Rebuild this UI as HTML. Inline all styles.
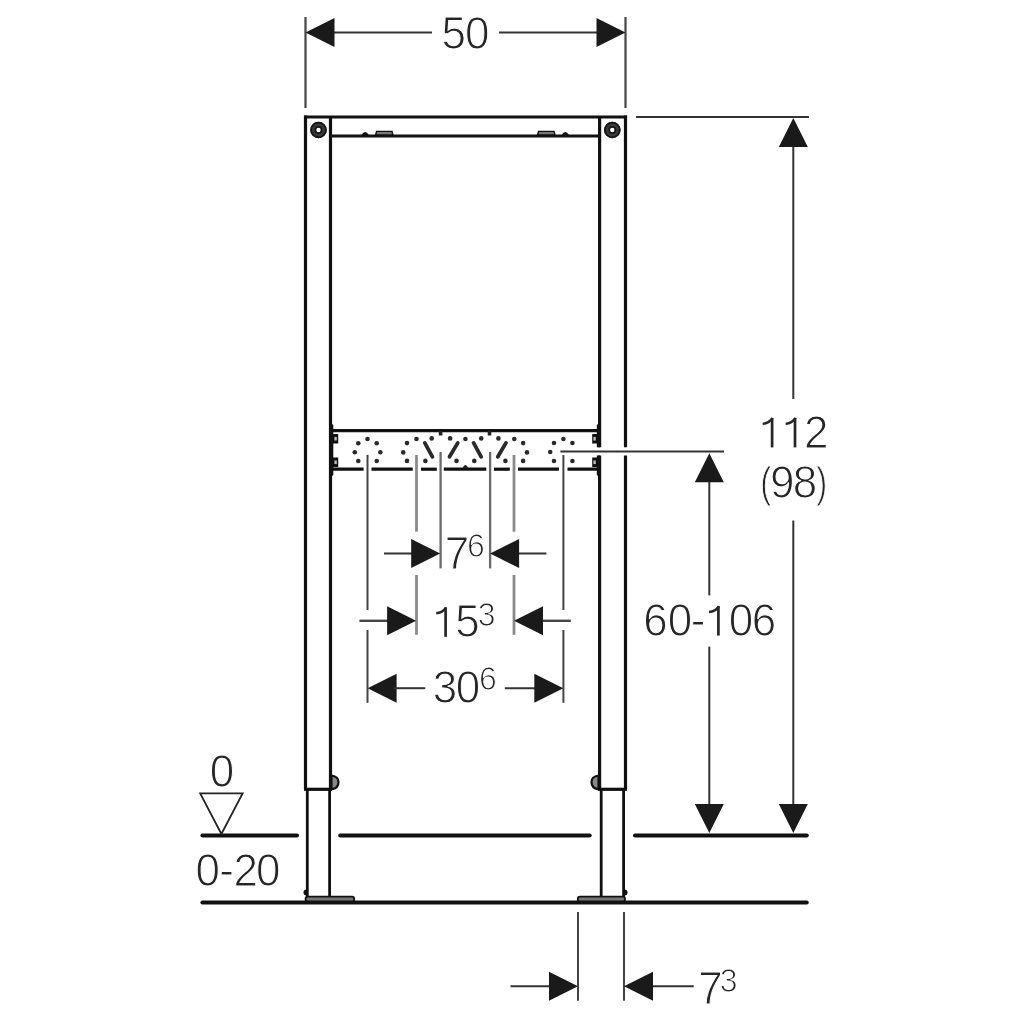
<!DOCTYPE html>
<html><head><meta charset="utf-8"><title>Installation frame dimensions</title>
<style>
html,body{margin:0;padding:0;background:#fff;}
body{width:1024px;height:1024px;overflow:hidden;}
svg{display:block;}
text{font-family:"Liberation Sans",sans-serif;}
</style></head>
<body>
<svg style="will-change:transform" width="1024" height="1024" viewBox="0 0 1024 1024">
<rect width="1024" height="1024" fill="#fff"/>
<line x1="305.5" y1="17" x2="305.5" y2="108" stroke="#444" stroke-width="2.2" stroke-linecap="butt"/>
<line x1="625.5" y1="17" x2="625.5" y2="108" stroke="#444" stroke-width="2.2" stroke-linecap="butt"/>
<line x1="330" y1="32.6" x2="432" y2="32.6" stroke="#333" stroke-width="2" stroke-linecap="butt"/>
<line x1="499" y1="32.6" x2="600" y2="32.6" stroke="#333" stroke-width="2" stroke-linecap="butt"/>
<polygon points="305.5,32.6 334.5,18.1 334.5,47.1" fill="#1a1a1a"/>
<polygon points="625.5,32.6 596.5,18.1 596.5,47.1" fill="#1a1a1a"/>
<text transform="translate(441.54,48.87) scale(1.0,1.03)" font-size="44" fill="#262626" stroke="#fff" stroke-width="1.0">5</text>
<text transform="translate(464.88,48.87) scale(1.0,1.03)" font-size="44" fill="#262626" stroke="#fff" stroke-width="1.0">0</text>
<line x1="304" y1="117" x2="627" y2="117" stroke="#111" stroke-width="3.2" stroke-linecap="butt"/>
<line x1="305.5" y1="115.5" x2="305.5" y2="789.3" stroke="#111" stroke-width="3.2" stroke-linecap="butt"/>
<line x1="330.5" y1="117" x2="330.5" y2="789.3" stroke="#111" stroke-width="3.2" stroke-linecap="butt"/>
<line x1="599.6" y1="117" x2="599.6" y2="447.2" stroke="#111" stroke-width="3.2" stroke-linecap="butt"/>
<line x1="599.6" y1="455.5" x2="599.6" y2="789.3" stroke="#111" stroke-width="3.2" stroke-linecap="butt"/>
<line x1="625.5" y1="115.5" x2="625.5" y2="447.2" stroke="#111" stroke-width="3.2" stroke-linecap="butt"/>
<line x1="625.5" y1="455.5" x2="625.5" y2="789.3" stroke="#111" stroke-width="3.2" stroke-linecap="butt"/>
<line x1="330.5" y1="136" x2="599.6" y2="136" stroke="#111" stroke-width="3.2" stroke-linecap="butt"/>
<path d="M361.5,135 Q365.2,129 368.9,135 Z" fill="#111" />
<path d="M375.6,135 L376.6,131.4 L392,131.4 L393,135 Z" fill="#777" stroke="#111" stroke-width="1.4" />
<path d="M569.0,135 Q565.3,129 561.6,135 Z" fill="#111" />
<path d="M537.5,135 L538.5,131.4 L554,131.4 L555,135 Z" fill="#777" stroke="#111" stroke-width="1.4" />
<circle cx="318.5" cy="130" r="5.3" fill="none" stroke="#3a3a3a" stroke-width="6"/>
<circle cx="318.5" cy="130" r="7.4" fill="none" stroke="#151515" stroke-width="1.8"/>
<circle cx="318.5" cy="130" r="3.2" fill="none" stroke="#151515" stroke-width="1.6"/>
<circle cx="612.3" cy="130" r="5.3" fill="none" stroke="#3a3a3a" stroke-width="6"/>
<circle cx="612.3" cy="130" r="7.4" fill="none" stroke="#151515" stroke-width="1.8"/>
<circle cx="612.3" cy="130" r="3.2" fill="none" stroke="#151515" stroke-width="1.6"/>
<line x1="304" y1="789.3" x2="332" y2="789.3" stroke="#111" stroke-width="3.2" stroke-linecap="butt"/>
<line x1="598" y1="789.3" x2="627" y2="789.3" stroke="#111" stroke-width="3.2" stroke-linecap="butt"/>
<path d="M331.5,775.5 Q338.5,776.5 338.5,782 Q338.5,788.5 331.5,789.3 Z" fill="#888" stroke="#111" stroke-width="2.2" />
<path d="M598.5,775.5 Q591.5,776.5 591.5,782 Q591.5,788.5 598.5,789.3 Z" fill="#888" stroke="#111" stroke-width="2.2" />
<line x1="307.3" y1="789.3" x2="307.3" y2="897" stroke="#111" stroke-width="2.8" stroke-linecap="butt"/>
<line x1="329.6" y1="789.3" x2="329.6" y2="897" stroke="#111" stroke-width="2.8" stroke-linecap="butt"/>
<line x1="601.2" y1="789.3" x2="601.2" y2="897" stroke="#111" stroke-width="2.8" stroke-linecap="butt"/>
<line x1="623.6" y1="789.3" x2="623.6" y2="897" stroke="#111" stroke-width="2.8" stroke-linecap="butt"/>
<rect x="305.6" y="896.6" width="48.6" height="5.2" rx="2.2" fill="#777" stroke="#111" stroke-width="1.8"/>
<rect x="577.8" y="896.6" width="47.2" height="5.2" rx="2.2" fill="#777" stroke="#111" stroke-width="1.8"/>
<path d="M306.5,889.5 A3,3 0 0 0 306.5,895.5 Z" fill="#111" />
<path d="M624.5,889.5 A3,3 0 0 1 624.5,895.5 Z" fill="#111" />
<line x1="330.5" y1="430.6" x2="599.6" y2="430.6" stroke="#111" stroke-width="3.2" stroke-linecap="butt"/>
<line x1="330.5" y1="469.2" x2="363.6" y2="469.2" stroke="#111" stroke-width="3.2" stroke-linecap="butt"/>
<line x1="371.5" y1="469.2" x2="412.7" y2="469.2" stroke="#111" stroke-width="3.2" stroke-linecap="butt"/>
<line x1="421" y1="469.2" x2="436.8" y2="469.2" stroke="#111" stroke-width="3.2" stroke-linecap="butt"/>
<line x1="443.8" y1="469.2" x2="486.3" y2="469.2" stroke="#111" stroke-width="3.2" stroke-linecap="butt"/>
<line x1="494" y1="469.2" x2="509.8" y2="469.2" stroke="#111" stroke-width="3.2" stroke-linecap="butt"/>
<line x1="518" y1="469.2" x2="559" y2="469.2" stroke="#111" stroke-width="3.2" stroke-linecap="butt"/>
<line x1="567.5" y1="469.2" x2="599.6" y2="469.2" stroke="#111" stroke-width="3.2" stroke-linecap="butt"/>
<path d="M330,422.5 L333.3,425 L333.3,475 L330,477.5 Z" fill="#111" />
<path d="M600,422.5 L596.8,425 L596.8,447.2 L600,447.2 Z" fill="#111" />
<path d="M600,455.5 L596.8,455.5 L596.8,475 L600,477.5 Z" fill="#111" />
<rect x="333" y="434" width="5.199999999999989" height="9.5" fill="#111"/>
<rect x="334.40000000000003" y="436.95" width="2.4" height="3.6" fill="#bbb"/>
<rect x="333" y="457.5" width="5.199999999999989" height="9.5" fill="#111"/>
<rect x="334.40000000000003" y="460.45" width="2.4" height="3.6" fill="#bbb"/>
<rect x="592.2" y="434" width="4.7999999999999545" height="9.5" fill="#111"/>
<rect x="593.4" y="436.95" width="2.4" height="3.6" fill="#bbb"/>
<rect x="592.2" y="457.5" width="4.7999999999999545" height="9.5" fill="#111"/>
<rect x="593.4" y="460.45" width="2.4" height="3.6" fill="#bbb"/>
<circle cx="367.5" cy="439" r="2.3" fill="#2a2a2a"/>
<circle cx="358.3" cy="443.2" r="2.3" fill="#2a2a2a"/>
<circle cx="376.7" cy="443.2" r="2.3" fill="#2a2a2a"/>
<circle cx="354.8" cy="452.2" r="2.3" fill="#2a2a2a"/>
<circle cx="380.3" cy="452.2" r="2.3" fill="#2a2a2a"/>
<circle cx="358.3" cy="461" r="2.3" fill="#2a2a2a"/>
<circle cx="376.7" cy="461" r="2.3" fill="#2a2a2a"/>
<circle cx="416.5" cy="439" r="2.3" fill="#2a2a2a"/>
<circle cx="431.7" cy="438.4" r="2.3" fill="#2a2a2a"/>
<circle cx="407" cy="443.1" r="2.3" fill="#2a2a2a"/>
<circle cx="403.2" cy="452.4" r="2.3" fill="#2a2a2a"/>
<circle cx="407" cy="460.9" r="2.3" fill="#2a2a2a"/>
<circle cx="425.4" cy="460.9" r="2.3" fill="#2a2a2a"/>
<circle cx="450.1" cy="438.4" r="2.3" fill="#2a2a2a"/>
<circle cx="465.4" cy="439" r="2.3" fill="#2a2a2a"/>
<circle cx="481.2" cy="438.4" r="2.3" fill="#2a2a2a"/>
<circle cx="498.4" cy="438.4" r="2.3" fill="#2a2a2a"/>
<circle cx="514.3" cy="439" r="2.3" fill="#2a2a2a"/>
<circle cx="523.1" cy="443.1" r="2.3" fill="#2a2a2a"/>
<circle cx="527" cy="452.4" r="2.3" fill="#2a2a2a"/>
<circle cx="523.1" cy="460.9" r="2.3" fill="#2a2a2a"/>
<circle cx="456.5" cy="460.9" r="2.3" fill="#2a2a2a"/>
<circle cx="474.3" cy="460.9" r="2.3" fill="#2a2a2a"/>
<circle cx="505.4" cy="460.9" r="2.3" fill="#2a2a2a"/>
<circle cx="554" cy="443" r="2.3" fill="#2a2a2a"/>
<circle cx="563.4" cy="439" r="2.3" fill="#2a2a2a"/>
<circle cx="572.4" cy="443" r="2.3" fill="#2a2a2a"/>
<circle cx="550.2" cy="452" r="2.3" fill="#2a2a2a"/>
<circle cx="554" cy="461" r="2.3" fill="#2a2a2a"/>
<circle cx="572.4" cy="461" r="2.3" fill="#2a2a2a"/>
<line x1="424.8" y1="442.9" x2="432.4" y2="456.8" stroke="#2a2a2a" stroke-width="3.8" stroke-linecap="round"/>
<line x1="457.8" y1="442.9" x2="449.5" y2="456.8" stroke="#2a2a2a" stroke-width="3.8" stroke-linecap="round"/>
<line x1="473.6" y1="442.9" x2="481.2" y2="456.8" stroke="#2a2a2a" stroke-width="3.8" stroke-linecap="round"/>
<line x1="506" y1="442.9" x2="497.8" y2="456.8" stroke="#2a2a2a" stroke-width="3.8" stroke-linecap="round"/>
<rect x="438.8" y="431" width="3.6" height="4.5" fill="#222"/>
<rect x="487.7" y="431" width="3.6" height="4.5" fill="#222"/>
<path d="M462.5,468 Q465.4,462 468.3,468 Z" fill="#222" />
<line x1="367.5" y1="454.8" x2="367.5" y2="610" stroke="#444" stroke-width="2" stroke-linecap="butt"/>
<line x1="367.5" y1="630" x2="367.5" y2="702.8" stroke="#444" stroke-width="2" stroke-linecap="butt"/>
<line x1="416.5" y1="455" x2="416.5" y2="531.7" stroke="#8a8a8a" stroke-width="2.8" stroke-linecap="butt"/>
<line x1="416.5" y1="575" x2="416.5" y2="634.8" stroke="#8a8a8a" stroke-width="2.8" stroke-linecap="butt"/>
<line x1="440.6" y1="452" x2="440.6" y2="568.4" stroke="#6a6a6a" stroke-width="2.3" stroke-linecap="butt"/>
<line x1="490.1" y1="452" x2="490.1" y2="568.4" stroke="#6a6a6a" stroke-width="2.3" stroke-linecap="butt"/>
<line x1="514" y1="455" x2="514" y2="531.7" stroke="#8a8a8a" stroke-width="2.8" stroke-linecap="butt"/>
<line x1="514" y1="575" x2="514" y2="634.8" stroke="#8a8a8a" stroke-width="2.8" stroke-linecap="butt"/>
<line x1="563.4" y1="455" x2="563.4" y2="610" stroke="#444" stroke-width="2" stroke-linecap="butt"/>
<line x1="563.4" y1="630" x2="563.4" y2="702.8" stroke="#444" stroke-width="2" stroke-linecap="butt"/>
<line x1="384" y1="553.5" x2="415" y2="553.5" stroke="#333" stroke-width="2" stroke-linecap="butt"/>
<polygon points="440.2,553.5 411.2,539.0 411.2,568.0" fill="#1a1a1a"/>
<line x1="515" y1="553.5" x2="546.4" y2="553.5" stroke="#333" stroke-width="2" stroke-linecap="butt"/>
<polygon points="490.1,553.5 519.1,539.0 519.1,568.0" fill="#1a1a1a"/>
<text transform="translate(444.76,569.12) scale(1.0,1.03)" font-size="44" fill="#262626" stroke="#fff" stroke-width="1.0">7</text>
<text transform="translate(467.07,557.45) scale(1.0,1.03)" font-size="32" fill="#262626" stroke="#fff" stroke-width="1.0">6</text>
<line x1="359.4" y1="620.8" x2="390" y2="620.8" stroke="#444" stroke-width="2.4" stroke-linecap="butt"/>
<polygon points="416.1,620.8 387.1,606.3 387.1,635.3" fill="#1a1a1a"/>
<line x1="541" y1="620.8" x2="570.8" y2="620.8" stroke="#444" stroke-width="2.4" stroke-linecap="butt"/>
<polygon points="514,620.8 543,606.3 543,635.3" fill="#1a1a1a"/>
<path d="M445.60,636.82 L445.60,607.34" fill="none" stroke="#262626" stroke-width="2.7"/>
<path d="M446.20,607.44 C443.40,611.44 440.80,612.84 436.20,613.24" fill="none" stroke="#262626" stroke-width="2.4"/>
<text transform="translate(455.14,637.42) scale(1.0,1.03)" font-size="44" fill="#262626" stroke="#fff" stroke-width="1.0">5</text>
<text transform="translate(477.68,625.70) scale(1.0,1.03)" font-size="32" fill="#262626" stroke="#fff" stroke-width="1.0">3</text>
<polygon points="367.6,688.2 396.6,673.7 396.6,702.7" fill="#1a1a1a"/>
<line x1="394" y1="688.2" x2="425.3" y2="688.2" stroke="#333" stroke-width="2" stroke-linecap="butt"/>
<line x1="504.8" y1="688.2" x2="537" y2="688.2" stroke="#333" stroke-width="2" stroke-linecap="butt"/>
<polygon points="563.3,688.2 534.3,673.7 534.3,702.7" fill="#1a1a1a"/>
<text transform="translate(432.83,702.92) scale(1.0,1.03)" font-size="44" fill="#262626" stroke="#fff" stroke-width="1.0">3</text>
<text transform="translate(455.68,702.92) scale(1.0,1.03)" font-size="44" fill="#262626" stroke="#fff" stroke-width="1.0">0</text>
<text transform="translate(478.97,690.45) scale(1.0,1.03)" font-size="32" fill="#262626" stroke="#fff" stroke-width="1.0">6</text>
<line x1="636" y1="117" x2="809" y2="117" stroke="#333" stroke-width="2" stroke-linecap="butt"/>
<line x1="560.4" y1="451.6" x2="724" y2="451.6" stroke="#333" stroke-width="2" stroke-linecap="butt"/>
<line x1="793.3" y1="140" x2="793.3" y2="399" stroke="#333" stroke-width="2" stroke-linecap="butt"/>
<line x1="793.3" y1="520.6" x2="793.3" y2="810" stroke="#333" stroke-width="2" stroke-linecap="butt"/>
<polygon points="793.3,118 778.8,147 807.8,147" fill="#1a1a1a"/>
<polygon points="793.3,833 778.8,804 807.8,804" fill="#1a1a1a"/>
<line x1="709.3" y1="475" x2="709.3" y2="595.4" stroke="#333" stroke-width="2" stroke-linecap="butt"/>
<line x1="709.3" y1="646.6" x2="709.3" y2="810" stroke="#333" stroke-width="2" stroke-linecap="butt"/>
<polygon points="709.3,453.2 694.8,482.2 723.8,482.2" fill="#1a1a1a"/>
<polygon points="709.3,833 694.8,804 723.8,804" fill="#1a1a1a"/>
<path d="M772.10,447.42 L772.10,417.94" fill="none" stroke="#262626" stroke-width="2.7"/>
<path d="M772.70,418.04 C769.90,422.04 767.30,423.44 762.70,423.84" fill="none" stroke="#262626" stroke-width="2.4"/>
<path d="M795.00,447.42 L795.00,417.94" fill="none" stroke="#262626" stroke-width="2.7"/>
<path d="M795.60,418.04 C792.80,422.04 790.20,423.44 785.60,423.84" fill="none" stroke="#262626" stroke-width="2.4"/>
<text transform="translate(804.10,448.02) scale(1.0,1.03)" font-size="44" fill="#262626" stroke="#fff" stroke-width="1.0">2</text>
<text transform="translate(760.25,496.60) scale(0.75,0.958)" font-size="44" fill="#262626" stroke="#fff" stroke-width="1.0">(</text>
<text transform="translate(770.03,498.07) scale(1.0,1.03)" font-size="44" fill="#262626" stroke="#fff" stroke-width="1.0">9</text>
<text transform="translate(792.71,498.07) scale(1.0,1.03)" font-size="44" fill="#262626" stroke="#fff" stroke-width="1.0">8</text>
<text transform="translate(816.30,496.60) scale(0.75,0.958)" font-size="44" fill="#262626" stroke="#fff" stroke-width="1.0">)</text>
<text transform="translate(643.26,636.17) scale(1.0,1.03)" font-size="44" fill="#262626" stroke="#fff" stroke-width="1.0">6</text>
<text transform="translate(667.68,636.17) scale(1.0,1.03)" font-size="44" fill="#262626" stroke="#fff" stroke-width="1.0">0</text>
<text transform="translate(690.66,636.17) scale(1.0,1.03)" font-size="44" fill="#262626" stroke="#fff" stroke-width="1.0">-</text>
<path d="M718.40,635.57 L718.40,606.09" fill="none" stroke="#262626" stroke-width="2.7"/>
<path d="M719.00,606.19 C716.20,610.19 713.60,611.59 709.00,611.99" fill="none" stroke="#262626" stroke-width="2.4"/>
<text transform="translate(728.78,636.17) scale(1.0,1.03)" font-size="44" fill="#262626" stroke="#fff" stroke-width="1.0">0</text>
<text transform="translate(751.66,636.17) scale(1.0,1.03)" font-size="44" fill="#262626" stroke="#fff" stroke-width="1.0">6</text>
<line x1="202.4" y1="835.5" x2="297" y2="835.5" stroke="#111" stroke-width="4.0" stroke-linecap="round"/>
<line x1="340.2" y1="835.5" x2="589.7" y2="835.5" stroke="#111" stroke-width="4.0" stroke-linecap="round"/>
<line x1="635" y1="835.5" x2="806.8" y2="835.5" stroke="#111" stroke-width="4.0" stroke-linecap="round"/>
<line x1="202.4" y1="902.5" x2="806.8" y2="902.5" stroke="#111" stroke-width="4.0" stroke-linecap="round"/>
<path d="M200.2,793.4 L242.6,793.4 L221.4,834 Z" fill="none" stroke="#222" stroke-width="1.8" stroke-linejoin="miter"/>
<text transform="translate(209.78,787.47) scale(1.0,1.03)" font-size="44" fill="#262626" stroke="#fff" stroke-width="1.0">0</text>
<text transform="translate(195.38,885.82) scale(1.0,1.03)" font-size="44" fill="#262626" stroke="#fff" stroke-width="1.0">0</text>
<text transform="translate(219.36,885.82) scale(1.0,1.03)" font-size="44" fill="#262626" stroke="#fff" stroke-width="1.0">-</text>
<text transform="translate(233.50,885.82) scale(1.0,1.03)" font-size="44" fill="#262626" stroke="#fff" stroke-width="1.0">2</text>
<text transform="translate(255.88,885.82) scale(1.0,1.03)" font-size="44" fill="#262626" stroke="#fff" stroke-width="1.0">0</text>
<line x1="578" y1="911.9" x2="578" y2="1000.7" stroke="#444" stroke-width="2" stroke-linecap="butt"/>
<line x1="624" y1="911.9" x2="624" y2="1000.7" stroke="#444" stroke-width="2" stroke-linecap="butt"/>
<line x1="510.5" y1="986.3" x2="550" y2="986.3" stroke="#333" stroke-width="2" stroke-linecap="butt"/>
<polygon points="578,986.3 549,971.8 549,1000.8" fill="#1a1a1a"/>
<line x1="652" y1="986.3" x2="693.7" y2="986.3" stroke="#333" stroke-width="2" stroke-linecap="butt"/>
<polygon points="624,986.3 653,971.8 653,1000.8" fill="#1a1a1a"/>
<text transform="translate(698.26,1003.92) scale(1.0,1.03)" font-size="44" fill="#262626" stroke="#fff" stroke-width="1.0">7</text>
<text transform="translate(719.78,992.45) scale(1.0,1.03)" font-size="32" fill="#262626" stroke="#fff" stroke-width="1.0">3</text>
</svg>
</body></html>
